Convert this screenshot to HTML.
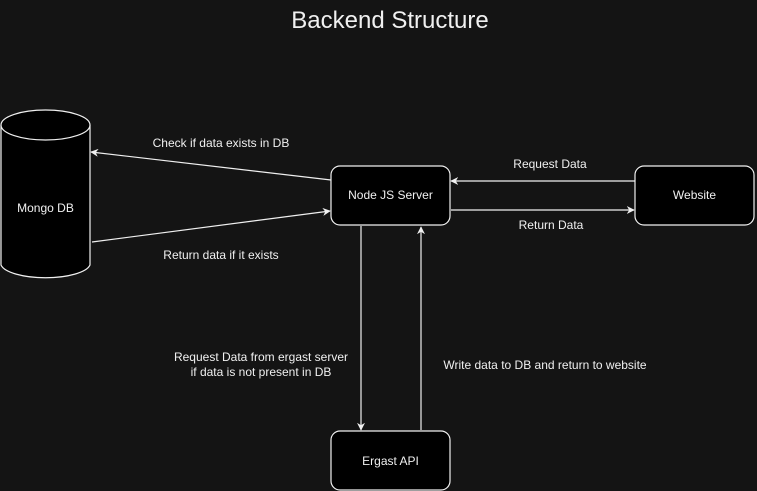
<!DOCTYPE html>
<html><head><style>
html,body{margin:0;padding:0;background:#141414;}
svg{display:block;}
text{font-family:"Liberation Sans",sans-serif;fill:#f0f0f0;}
</style></head><body>
<svg width="757" height="491" viewBox="0 0 757 491">
<defs><marker id="a" viewBox="0 0 10 10" refX="9" refY="5" markerWidth="8" markerHeight="8" orient="auto" markerUnits="userSpaceOnUse">
<path d="M0,0 L10,5 L0,10 L3,5 Z" fill="#f0f0f0"/></marker></defs>
<rect width="757" height="491" fill="#141414"/>
<text x="390" y="28" font-size="24" text-anchor="middle">Backend Structure</text>
<path d="M1,125 L1,265 A45,15 0 0 0 90,265 L90,125" fill="#000" stroke="#f0f0f0" stroke-width="1.2"/>
<ellipse cx="45.5" cy="125" rx="44.5" ry="15" fill="#000" stroke="#f0f0f0" stroke-width="1.2"/>
<text x="45.5" y="212" font-size="12" text-anchor="middle">Mongo DB</text>
<rect x="331" y="166" width="119" height="59" rx="9" fill="#000" stroke="#f0f0f0" stroke-width="1.2"/>
<text x="390.5" y="199" font-size="12" text-anchor="middle">Node JS Server</text>
<rect x="635" y="166" width="119" height="59" rx="9" fill="#000" stroke="#f0f0f0" stroke-width="1.2"/>
<text x="694.5" y="199" font-size="12" text-anchor="middle">Website</text>
<rect x="331" y="431" width="119" height="59" rx="9" fill="#000" stroke="#f0f0f0" stroke-width="1.2"/>
<text x="390.5" y="465" font-size="12" text-anchor="middle">Ergast API</text>
<g stroke="#f0f0f0" stroke-width="1.2" fill="none" marker-end="url(#a)">
<line x1="331" y1="180" x2="91" y2="152"/>
<line x1="92" y1="242" x2="330" y2="211"/>
<line x1="635" y1="181" x2="451" y2="181"/>
<line x1="451" y1="210" x2="634" y2="210"/>
<line x1="361" y1="226" x2="361" y2="430"/>
<line x1="421" y1="430" x2="421" y2="227"/>
</g>
<text x="221" y="147" font-size="12" text-anchor="middle">Check if data exists in DB</text>
<text x="221" y="259" font-size="12" text-anchor="middle">Return data if it exists</text>
<text x="550" y="168" font-size="12" text-anchor="middle">Request Data</text>
<text x="551" y="229" font-size="12" text-anchor="middle">Return Data</text>
<text x="261" y="361" font-size="12" text-anchor="middle">Request Data from ergast server</text>
<text x="261" y="376" font-size="12" text-anchor="middle">if data is not present in DB</text>
<text x="545" y="369" font-size="12" text-anchor="middle">Write data to DB and return to website</text>
</svg>
</body></html>
